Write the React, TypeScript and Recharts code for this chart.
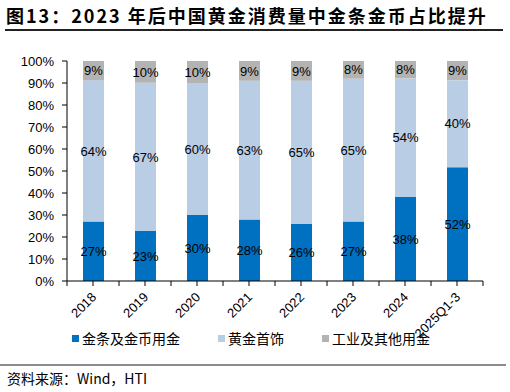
import React from "react";
import { BarChart, Bar, XAxis, YAxis, LabelList } from "recharts";

const years = ["2018", "2019", "2020", "2021", "2022", "2023", "2024", "2025Q1-3"];
const barCoin = [27, 22.7, 30, 28, 26, 27, 38.2, 51.7];
const jewelry = [64.2, 67.4, 60, 63, 65, 65, 53.9, 39.6];
const industry = [8.8, 9.9, 10, 9, 9, 8, 7.9, 8.7];
const yTicks = [0, 10, 20, 30, 40, 50, 60, 70, 80, 90, 100];

const names = ["金条及金币用金", "黄金首饰", "工业及其他用金"];
const colors = ["#0070C0", "#B9CDE5", "#B3B3B3"];

const data = years.map((y, i) => ({
  year: y,
  coin: barCoin[i],
  jewelry: jewelry[i],
  industry: industry[i],
}));

const latin = "'Liberation Sans', Arial, sans-serif";
const cjk = "'Noto Sans CJK SC', 'Liberation Sans', sans-serif";

const pct = (v: any) => `${Math.round(Number(v))}%`;

function XTick(props: any) {
  const { x, y, payload, index, width, visibleTicksCount } = props;
  const band = width / visibleTicksCount;
  const last = index === visibleTicksCount - 1;
  return (
    <g>
      <line x1={x} y1={y} x2={x} y2={y + 5} stroke="#000" />
      <line x1={x - band / 2} y1={y} x2={x - band / 2} y2={y + 5} stroke="#000" />
      {last && <line x1={x + band / 2} y1={y} x2={x + band / 2} y2={y + 5} stroke="#000" />}
      <text
        x={x + 4}
        y={y + 17}
        transform={`rotate(-45, ${x + 4}, ${y + 17})`}
        textAnchor="end"
        fontSize={13}
        fontFamily={latin}
        fill="#000"
      >
        {payload.value}
      </text>
    </g>
  );
}

export default function App() {
  return (
    <div style={{ position: "absolute", left: 0, top: 0, width: 510, height: 392, background: "#fff" }}>
      <div
        style={{
          position: "absolute",
          left: 6,
          top: 2,
          fontFamily: cjk,
          fontWeight: 700,
          fontSize: 18,
          letterSpacing: 2,
          whiteSpace: "nowrap",
          color: "#000",
        }}
      >
        图13：2023 年后中国黄金消费量中金条金币占比提升
      </div>
      <div style={{ position: "absolute", left: 5, top: 29, width: 498, height: 1.5, background: "#222" }} />

      <div style={{ position: "absolute", left: 0, top: 0 }}>
        <BarChart
          width={510}
          height={392}
          data={data}
          margin={{ top: 61, right: 27, left: 7, bottom: 61 }}
          barSize={21}
        >
          <XAxis
            dataKey="year"
            height={50}
            tickSize={0}
            tickMargin={0}
            tickLine={false}
            axisLine={{ stroke: "#000" }}
            interval={0}
            tick={<XTick />}
          />
          <YAxis
            width={60}
            domain={[0, 100]}
            ticks={yTicks}
            tickFormatter={(v) => `${v}%`}
            tickSize={5}
            tickMargin={8}
            axisLine={{ stroke: "#000" }}
            tickLine={{ stroke: "#000" }}
            tick={{ fontSize: 13, fontFamily: latin, fill: "#000" }}
            interval={0}
          />
          <Bar dataKey="coin" stackId="a" fill={colors[0]} isAnimationActive={false}>
            <LabelList dataKey="coin" position="center" formatter={pct} fontSize={13} fontFamily={latin} fill="#000" />
          </Bar>
          <Bar dataKey="jewelry" stackId="a" fill={colors[1]} isAnimationActive={false}>
            <LabelList dataKey="jewelry" position="center" formatter={pct} fontSize={13} fontFamily={latin} fill="#000" />
          </Bar>
          <Bar dataKey="industry" stackId="a" fill={colors[2]} isAnimationActive={false}>
            <LabelList dataKey="industry" position="center" formatter={pct} fontSize={13} fontFamily={latin} fill="#000" />
          </Bar>
        </BarChart>
      </div>

      {names.map((n, i) => (
        <div
          key={n}
          style={{
            position: "absolute",
            left: [72, 218, 322][i],
            top: 328,
            display: "flex",
            alignItems: "center",
            fontFamily: cjk,
            fontSize: 14,
            color: "#000",
            whiteSpace: "nowrap",
          }}
        >
          <span style={{ display: "inline-block", width: 7, height: 7, background: colors[i], marginRight: 3 }} />
          {n}
        </div>
      ))}

      <div style={{ position: "absolute", left: 0, top: 364, width: 506, height: 2, background: "#8c8c8c" }} />
      <div
        style={{
          position: "absolute",
          left: 7,
          top: 368,
          fontFamily: cjk,
          fontSize: 14,
          color: "#000",
          whiteSpace: "nowrap",
        }}
      >
        资料来源：Wind，HTI
      </div>
    </div>
  );
}
